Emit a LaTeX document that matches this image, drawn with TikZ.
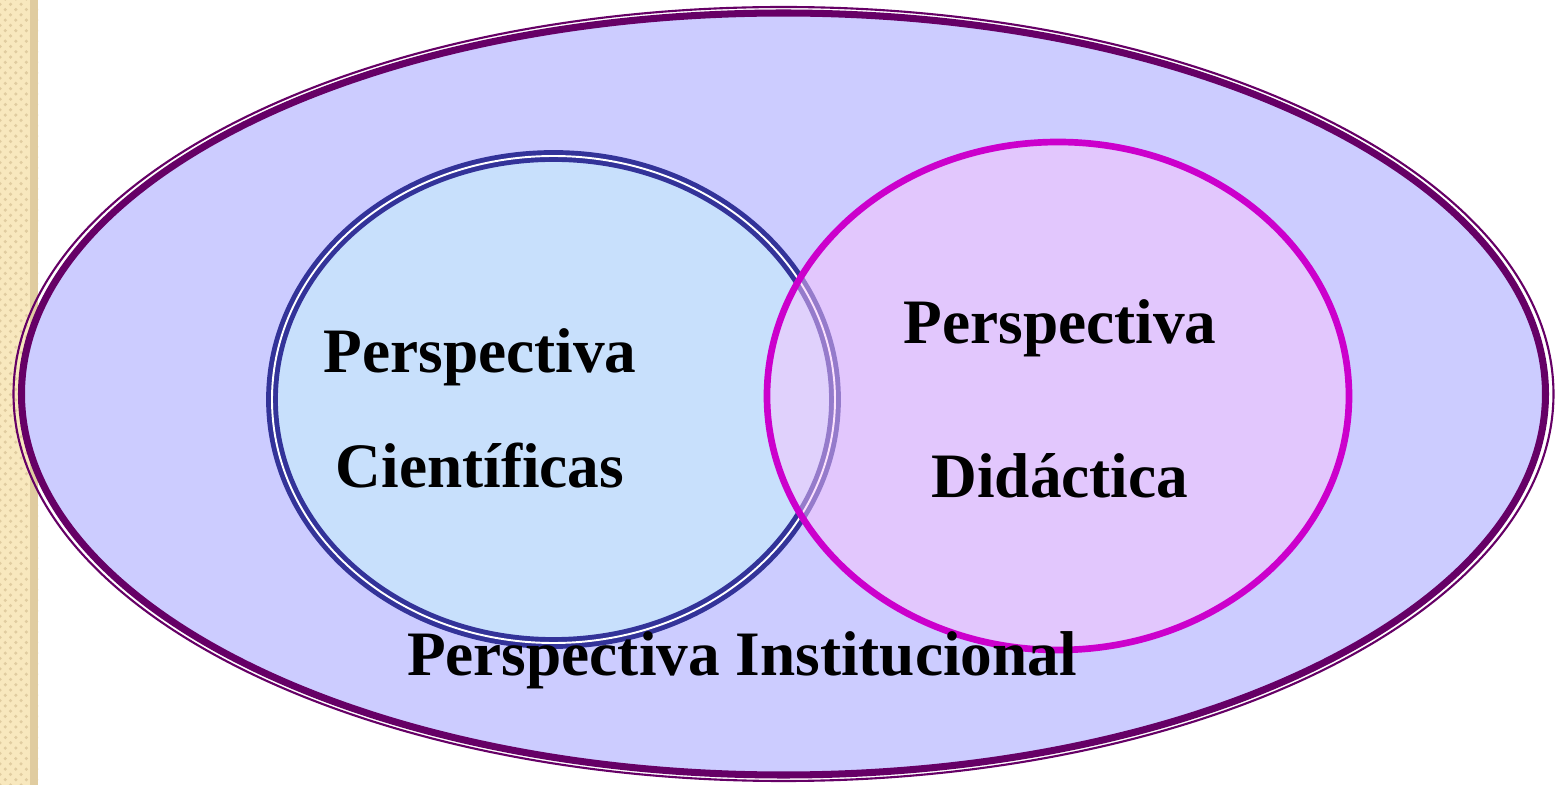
\documentclass[tikz,border=0pt]{standalone}
\usepackage{fontspec}
\setmainfont{Liberation Serif}
\usetikzlibrary{patterns}
\definecolor{outerfill}{RGB}{204,204,255}
\definecolor{outerline}{RGB}{102,0,102}
\definecolor{bluefill}{RGB}{200,224,252}
\definecolor{blueline}{RGB}{51,51,153}
\definecolor{pinkfill}{RGB}{248,196,253}
\definecolor{pinkline}{RGB}{204,0,204}
\definecolor{strip}{RGB}{248,232,190}
\definecolor{stripdark}{RGB}{224,204,160}
\tikzset{
  label/.style={font=\fontsize{18}{22}\selectfont\bfseries, align=center, text=black}
}

\begin{document}
\begin{tikzpicture}[x=0.01cm, y=-0.01cm]
\useasboundingbox (0,0) rectangle (1559,785);
\fill[white] (0,0) rectangle (1559,785);
% left strip
\fill[strip] (0,0) rectangle (38,785);
\fill[pattern=crosshatch dots, pattern color=stripdark] (0,0) rectangle (38,785);
\fill[stripdark] (30,0) rectangle (38,785);
% outer ellipse
\fill[outerfill] (783.5,394) ellipse [x radius=762, y radius=381];
\draw[outerline, line width=0.6pt] (783.5,394) ellipse [x radius=770, y radius=387];
\draw[outerline, line width=2pt] (783.5,394) ellipse [x radius=762, y radius=381];
% left circle
\draw[blueline, fill=bluefill, line width=1.4pt, double=white, double distance=0.55pt]
  (553.5,399.5) ellipse [x radius=281.5, y radius=243.5];
% right circle
\fill[pinkfill, fill opacity=0.5] (1058,396) ellipse [x radius=291, y radius=254];
\draw[pinkline, line width=1.9pt] (1058,396) ellipse [x radius=291, y radius=254];
% texts
\node[label] (cient) at (480,408) {Perspectiva\\[10.7pt]Científicas};
\node[label] (didac) at (1060,399) {Perspectiva\\[21.8pt]Didáctica};
\node[label] (inst) at (742,660) {Perspectiva Institucional};
\end{tikzpicture}
\end{document}
